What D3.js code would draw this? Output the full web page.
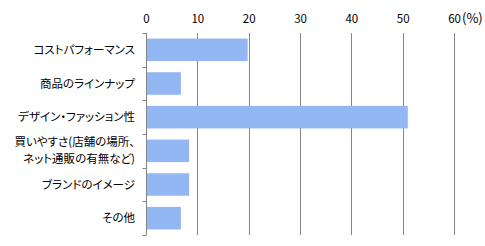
<!DOCTYPE html>
<html>
<head>
<meta charset="utf-8">
<script src="https://cdn.jsdelivr.net/npm/d3@7"></script>
<style>
    body { margin: 0; background: #fff; }
    svg { display: block; }
    text { font-family: 'Noto Sans CJK JP', sans-serif; font-size: 11.5px; fill: #000; font-feature-settings: 'palt'; }
</style>
</head>
<body>
<div id="chart"></div>
<script>
// data
const categories = [
    ['コストパフォーマンス'],
    ['商品のラインナップ'],
    ['デザイン・ファッション性'],
    ['買いやすさ(店舗の場所、', 'ネット通販の有無など)'],
    ['ブランドのイメージ'],
    ['その他']
];
const values = [19.8, 6.8, 51.0, 8.4, 8.4, 6.8];
const xTicks = [0, 10, 20, 30, 40, 50, 60];
const unitLabel = '(%)';

const width = 485;
const height = 246;
const margin = { top: 33, right: 31, bottom: 11, left: 146 };

const svg = d3.select('#chart')
    .append('svg')
    .attr('width', width)
    .attr('height', height);

const xScale = d3.scaleLinear()
    .domain([0, 60])
    .range([margin.left, width - margin.right]);

const yScale = d3.scaleBand()
    .domain(d3.range(categories.length))
    .range([margin.top, height - margin.bottom])
    .paddingInner(0.33)
    .paddingOuter(0.165);

const bandStep = yScale.step();

// vertical grid
svg.append('g')
    .selectAll('line')
    .data(xTicks.slice(1))
    .join('line')
    .attr('x1', d => Math.round(xScale(d)) + 0.5)
    .attr('x2', d => Math.round(xScale(d)) + 0.5)
    .attr('y1', margin.top)
    .attr('y2', height - margin.bottom)
    .attr('stroke', '#868686');

// bars
svg.append('g')
    .selectAll('rect')
    .data(values)
    .join('rect')
    .attr('x', xScale(0))
    .attr('y', (d, i) => yScale(i))
    .attr('width', d => xScale(d) - xScale(0))
    .attr('height', yScale.bandwidth())
    .attr('fill', '#93b7f3');

// top axis labels
const xAxis = svg.append('g')
    .attr('transform', `translate(0,${margin.top})`)
    .call(d3.axisTop(xScale).tickValues(xTicks).tickSize(0).tickPadding(10));

xAxis.select('.domain').remove();
xAxis.selectAll('text')
    .style('font-family', "'Noto Sans CJK JP', sans-serif")
    .style('font-size', '11.5px')
    .attr('fill', '#000');

svg.append('text')
    .attr('x', xScale(60) + 8)
    .attr('y', margin.top - 10)
    .style('font-size', '13px')
    .text(unitLabel);

// left axis line and ticks
const axisX = Math.round(xScale(0)) + 0.5;
svg.append('line')
    .attr('x1', axisX)
    .attr('x2', axisX)
    .attr('y1', margin.top)
    .attr('y2', height - margin.bottom)
    .attr('stroke', '#868686');

svg.append('g')
    .selectAll('line')
    .data(d3.range(categories.length + 1))
    .join('line')
    .attr('x1', axisX - 4)
    .attr('x2', axisX)
    .attr('y1', i => Math.round(margin.top + i * bandStep) + 0.5)
    .attr('y2', i => Math.round(margin.top + i * bandStep) + 0.5)
    .attr('stroke', '#868686');

// category labels
const labels = svg.append('g')
    .selectAll('text')
    .data(categories)
    .join('text')
    .attr('text-anchor', 'end')
    .attr('x', margin.left - 11)
    .attr('y', (d, i) => yScale(i) + yScale.bandwidth() / 2);

labels.selectAll('tspan')
    .data(d => d.map((t, j) => ({ t, j, n: d.length })))
    .join('tspan')
    .attr('x', margin.left - 11)
    .attr('dy', d => d.j === 0 ? `${0.35 - (d.n - 1) * 0.75}em` : '1.5em')
    .text(d => d.t);
</script>
</body>
</html>
